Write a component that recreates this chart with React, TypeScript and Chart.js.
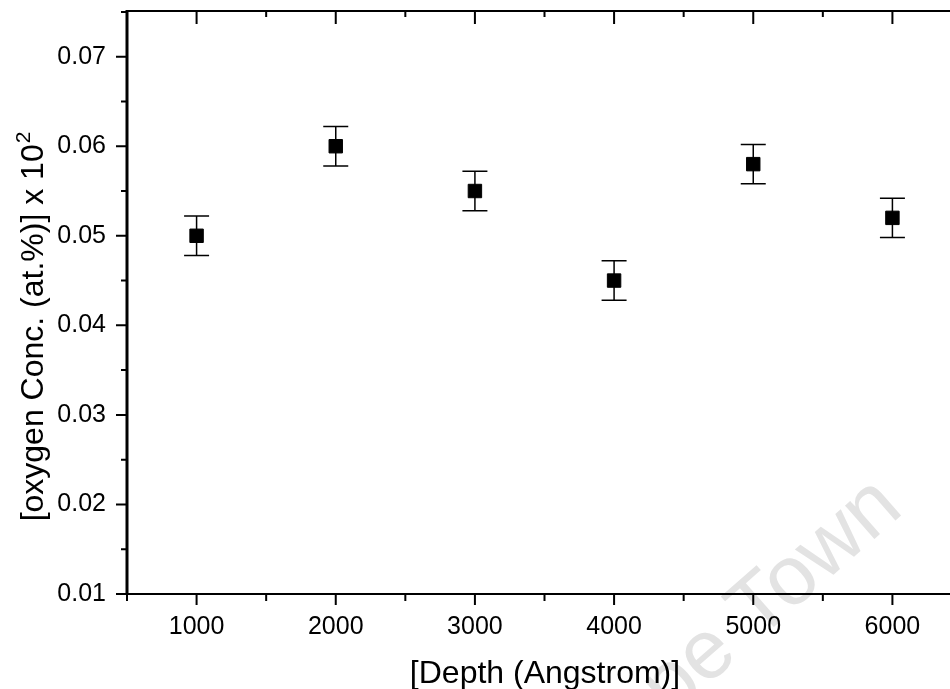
import React, { useEffect, useRef } from "react";
import { Chart, registerables } from "chart.js";

Chart.register(...registerables);

const depths = [1000, 2000, 3000, 4000, 5000, 6000];
const oxygen = [0.05, 0.06, 0.055, 0.045, 0.058, 0.052];
const errors = [0.0022, 0.0022, 0.0022, 0.0022, 0.0022, 0.0022];
const xTicks = [1000, 2000, 3000, 4000, 5000, 6000];
const xMinor = [500, 1500, 2500, 3500, 4500, 5500, 6500];
const yTicks = [0.01, 0.02, 0.03, 0.04, 0.05, 0.06, 0.07];
const yMinor = [0.015, 0.025, 0.035, 0.045, 0.055, 0.065, 0.075];
const xTitle = "[Depth (Angstrom)]";
const yTitleMain = "[oxygen Conc. (at.%)] x 10";
const yTitleSup = "2";
const watermark = "Cape Town";

const FONT = "'Liberation Sans', Arial, Helvetica, sans-serif";

const framePlugin = {
  id: "frame",
  beforeDraw(chart: any) {
    const ctx = chart.ctx;
    ctx.save();
    ctx.fillStyle = "#ffffff";
    ctx.fillRect(0, 0, chart.width, chart.height);
    // watermark
    ctx.translate(905, 512);
    ctx.rotate(-0.72);
    ctx.font = `84px ${FONT}`;
    ctx.fillStyle = "#e3e3e3";
    ctx.textAlign = "right";
    ctx.textBaseline = "alphabetic";
    ctx.fillText(watermark, 0, 0);
    ctx.restore();
  },
  beforeDatasetsDraw(chart: any) {
    const ctx = chart.ctx;
    const xs = chart.scales.x;
    const ys = chart.scales.y;
    const ds = chart.data.datasets[0];
    ctx.save();
    ctx.strokeStyle = "#000";
    ctx.lineWidth = 1.5;
    ds.data.forEach((p: any, i: number) => {
      const x = xs.getPixelForValue(p.x);
      const yT = ys.getPixelForValue(p.y + errors[i]);
      const yB = ys.getPixelForValue(p.y - errors[i]);
      ctx.beginPath();
      ctx.moveTo(x, yT);
      ctx.lineTo(x, yB);
      ctx.moveTo(x - 12.5, yT);
      ctx.lineTo(x + 12.5, yT);
      ctx.moveTo(x - 12.5, yB);
      ctx.lineTo(x + 12.5, yB);
      ctx.stroke();
    });
    ctx.restore();
  },
  afterDraw(chart: any) {
    const ctx = chart.ctx;
    const a = chart.chartArea;
    const xs = chart.scales.x;
    const ys = chart.scales.y;
    ctx.save();
    ctx.strokeStyle = "#000";
    ctx.lineCap = "butt";
    // spines
    ctx.lineWidth = 2;
    ctx.beginPath();
    ctx.moveTo(a.left, a.top);
    ctx.lineTo(a.right, a.top);
    ctx.moveTo(a.left, a.bottom);
    ctx.lineTo(a.right, a.bottom);
    ctx.moveTo(a.right, a.top);
    ctx.lineTo(a.right, a.bottom);
    ctx.stroke();
    ctx.lineWidth = 3;
    ctx.beginPath();
    ctx.moveTo(a.left, a.top - 1);
    ctx.lineTo(a.left, a.bottom + 1);
    ctx.stroke();
    // ticks
    ctx.lineWidth = 2;
    ctx.beginPath();
    xTicks.forEach((v) => {
      const x = xs.getPixelForValue(v);
      ctx.moveTo(x, a.bottom);
      ctx.lineTo(x, a.bottom + 11);
      ctx.moveTo(x, a.top);
      ctx.lineTo(x, a.top + 13);
    });
    xMinor.forEach((v) => {
      const x = xs.getPixelForValue(v);
      ctx.moveTo(x, a.bottom);
      ctx.lineTo(x, a.bottom + 7);
      ctx.moveTo(x, a.top);
      ctx.lineTo(x, a.top + 6);
    });
    yTicks.forEach((v) => {
      const y = ys.getPixelForValue(v);
      ctx.moveTo(a.left, y);
      ctx.lineTo(a.left - 11, y);
      ctx.moveTo(a.right, y);
      ctx.lineTo(a.right - 11, y);
    });
    yMinor.forEach((v) => {
      const y = ys.getPixelForValue(v);
      ctx.moveTo(a.left, y);
      ctx.lineTo(a.left - 6, y);
      ctx.moveTo(a.right, y);
      ctx.lineTo(a.right - 6, y);
    });
    ctx.stroke();
    // titles
    ctx.fillStyle = "#000";
    ctx.font = `32px ${FONT}`;
    ctx.textAlign = "center";
    ctx.textBaseline = "alphabetic";
    ctx.fillText(xTitle, 545, 683);
    ctx.translate(43, 327);
    ctx.rotate(-Math.PI / 2);
    ctx.textAlign = "left";
    ctx.font = `32px ${FONT}`;
    const w1 = ctx.measureText(yTitleMain).width;
    ctx.font = `21px ${FONT}`;
    const w2 = ctx.measureText(yTitleSup).width;
    const start = -(w1 + w2) / 2;
    ctx.font = `32px ${FONT}`;
    ctx.fillText(yTitleMain, start, 0);
    ctx.font = `21px ${FONT}`;
    ctx.fillText(yTitleSup, start + w1 + 1, -13);
    ctx.restore();
  },
};

export default function App() {
  const ref = useRef<HTMLCanvasElement>(null);
  useEffect(() => {
    const canvas = ref.current!;
    const chart = new Chart(canvas, {
      type: "scatter",
      data: {
        datasets: [
          {
            data: depths.map((d, i) => ({ x: d, y: oxygen[i] })),
            pointStyle: "rect",
            pointRadius: 9.5,
            pointHoverRadius: 9.5,
            backgroundColor: "#000",
            borderColor: "#000",
            borderWidth: 1,
          },
        ],
      },
      plugins: [framePlugin],
      options: {
        responsive: false,
        animation: false,
        events: [],
        layout: { padding: { top: 11, right: 23, left: 0, bottom: 0 } },
        plugins: { legend: { display: false }, tooltip: { enabled: false } },
        scales: {
          x: {
            type: "linear",
            min: 500,
            max: 6500,
            grid: { display: false, drawTicks: false },
            border: { display: false },
            afterBuildTicks: (s: any) => {
              s.ticks = xTicks.map((v) => ({ value: v }));
            },
            afterFit: (s: any) => {
              s.height = 95;
              s.paddingLeft = 0;
              s.paddingRight = 0;
            },
            ticks: {
              padding: 18,
              color: "#000",
              font: { family: FONT, size: 25 },
              maxRotation: 0,
              callback: (v: any) => String(v),
            },
          },
          y: {
            type: "linear",
            min: 0.01,
            max: 0.0751,
            grid: { display: false, drawTicks: false },
            border: { display: false },
            afterBuildTicks: (s: any) => {
              s.ticks = yTicks.map((v) => ({ value: v }));
            },
            afterFit: (s: any) => {
              s.width = 127;
              s.paddingTop = 0;
              s.paddingBottom = 0;
            },
            ticks: {
              padding: 21,
              color: "#000",
              font: { family: FONT, size: 25 },
              callback: (v: any) => Number(v).toFixed(2),
            },
          },
        },
      },
    } as any);
    return () => chart.destroy();
  }, []);
  return (
    <div
      style={{
        position: "fixed",
        left: 0,
        top: 0,
        width: 950,
        height: 689,
        overflow: "hidden",
        background: "#fff",
      }}
    >
      <canvas ref={ref} width={985} height={689} style={{ display: "block" }} />
    </div>
  );
}
